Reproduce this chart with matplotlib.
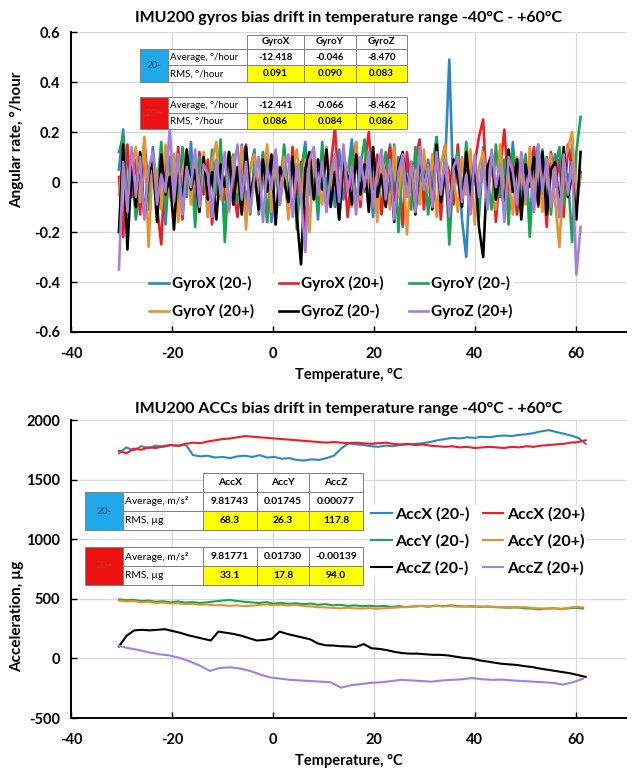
import numpy as np
import matplotlib
matplotlib.use('Agg')
import matplotlib.pyplot as plt
from matplotlib.patches import Rectangle

plt.rcParams['font.family'] = ['Lato', 'DejaVu Sans']
plt.rcParams['axes.unicode_minus'] = False

W, H = 639, 771

# ---- gyro data, hundredths of deg/hour ----
gyro_names = ['GyroX (20-)', 'GyroX (20+)', 'GyroY (20-)', 'GyroY (20+)', 'GyroZ (20-)', 'GyroZ (20+)']
line_colors = ['#2e86c9', '#ee1c24', '#16a651', '#e8922e', '#000000', '#a77fdb']

gyrox_m = [5, 21, -8, 12, -15, 3, 9, -11, 14, -4, 7, -17, 10, 2, -9, 13, -6, 16, -12, 4,
           8, -14, 11, -3, 6, -19, 12, 1, -7, 15, -10, 5, 13, -13, 3, 9, -16, 7, -2, 14,
           -8, 10, -12, 4, 16, -5, 8, -15, 11, -1, 6, -10, 13, -7, 3, 17, -11, 5, -4, 12,
           -14, 8, 2, -9, 15, -6, 10, -18, 7, 1, -12, 14, -3, 9, -8, 18, -10, 6, 49, -7,
           11, -15, -30, 8, 3, -11, 14, -5, 9, -13, 12, 2, -8, 16, -12, 5, 10, -16, 7, -3,
           13, -9, 4, 11, -14, 8, -6, 15, -10, 3]
gyrox_p = [2, -22, 15, -6, 9, -13, 17, -4, 6, -10, -25, 11, 3, -8, 14, -15, 7, 1, -11, 12,
           -5, 9, -17, 4, 13, -7, 10, -3, -14, 8, 15, -9, 5, -2, 11, -16, 6, 12, -8, 3,
           -12, 14, -5, 8, -19, 10, 2, -7, 13, -11, 6, 22, -6, 9, -14, 4, 16, -10, 7, 20,
           -3, 11, -13, 5, 14, -8, 2, -17, 12, -4, 8, 17, -11, 6, -2, 13, -15, 9, 4, -9,
           15, -6, 10, -12, 7, 18, 25, -8, 12, -16, 5, 21, -3, 9, -13, 11, -7, 4, 14, -10,
           6, -18, 12, -2, 9, -14, 15, 5, -8, 4]
gyroy_m = [12, 18, -6, 9, -14, 4, 15, -9, 7, -2, 16, -12, 5, 11, -7, 14, -3, 8, -18, 10,
           3, -10, 13, -5, 17, -24, 6, 11, -8, 2, 14, -13, 9, -4, 12, -16, 7, 3, -9, 15,
           -6, 10, -19, 5, 13, -3, 8, -12, 16, -7, 4, 11, -15, 9, -1, 13, -10, 6, 17, -5,
           10, -14, 3, 12, -8, 15, -20, 7, 1, -11, 14, -4, 9, -13, 6, 18, -7, 11, -25, 5,
           12, -9, 16, -3, 8, -14, 10, 2, -11, 15, -6, 9, -17, 13, 4, -8, 11, -22, 7, 15,
           -5, 10, -13, 6, 14, -9, 3, -24, 12, 26]
gyroy_p = [-5, 10, -13, 6, 14, -8, 18, -26, 9, 3, -11, 15, -6, 11, -16, 4, 13, -9, 7, -3,
           12, -14, 8, 16, -7, 2, -12, 10, -4, 14, -19, 6, 11, -8, 3, 15, -12, 7, -2, 10,
           -15, 5, 13, -6, 9, -20, 12, 1, -9, 14, -5, 8, -13, 11, 4, -10, 16, -7, 6, -2,
           12, -16, 9, 3, -11, 14, -6, 10, -21, 8, 2, -9, 13, -4, 11, -14, 7, 15, -8, 3,
           -12, 10, -5, 13, -17, 6, 12, -3, 9, -11, 15, -7, 4, -13, 10, 2, -9, 14, -6, 8,
           -12, 5, 11, -8, -26, 7, 13, 20, -10, 3]
gyroz_m = [-20, 15, -27, 6, -10, 12, -14, 3, 8, -16, 11, -5, 2, -19, 9, -8, 13, -3, 5, -12,
           10, -7, 4, -15, 7, -2, 12, -9, 6, -13, 14, -6, 3, -11, 9, -4, 11, -17, 6, 1,
           -8, 10, -14, -33, 5, 12, -7, 9, -3, 13, -10, 4, -15, 8, 2, -9, 11, -5, 7, -12,
           14, -6, 3, -10, 9, -16, 6, 12, -4, 8, -13, 10, -2, 7, -11, 15, -8, 4, -14, 9,
           2, -10, 12, -5, 8, -18, -30, 6, 11, -7, 3, -12, 13, -4, 9, -15, 7, -2, 10, -9,
           12, -13, 5, 8, -11, 14, -6, 3, -15, 12]
gyroz_p = [-35, 8, -12, 14, -6, 10, -15, 5, 12, -9, 3, -4, 22, -8, 11, -13, 6, -2, 13, -10,
           7, 3, -14, 9, -5, 12, -11, 4, 15, -7, 8, -12, 2, 10, -16, 6, -3, 13, -9, 5,
           11, -14, 7, -6, -28, 9, 14, -5, 8, -12, 3, 11, -8, 15, -4, 6, -13, 10, -2, 12,
           -10, 5, 13, -7, 9, -15, 4, 11, -6, 8, -12, 14, -3, 7, -10, 12, -5, 9, -14, 6,
           10, -8, 3, -13, 11, -6, 8, -11, 13, -2, 7, -16, 10, 4, -9, 12, -7, 5, -12, 15,
           -4, 9, -10, 6, -14, 11, -5, 8, -37, -18]
gyro_series = [gyrox_m, gyrox_p, gyroy_m, gyroy_p, gyroz_m, gyroz_p]
gyro_t_start, gyro_t_end = -30.5, 61.0

# ---- accelerometer data (micro g) ----
acc_names = ['AccX (20-)', 'AccX (20+)', 'AccY (20-)', 'AccY (20+)', 'AccZ (20-)', 'AccZ (20+)']
accx_m = [1720, 1770, 1745, 1780, 1765, 1785, 1775, 1790, 1780, 1795, 1705, 1695, 1700, 1685, 1690, 1680,
          1695, 1700, 1690, 1705, 1685, 1690, 1675, 1680, 1665, 1660, 1670, 1665, 1680, 1700, 1760, 1805,
          1795, 1790, 1780, 1775, 1785, 1780, 1790, 1795, 1800, 1805, 1815, 1830, 1840, 1850, 1845, 1855,
          1850, 1860, 1855, 1865, 1870, 1865, 1875, 1880, 1890, 1905, 1915, 1900, 1885, 1870, 1850, 1800]
accx_p = [1740, 1720, 1760, 1750, 1770, 1765, 1780, 1790, 1785, 1800, 1810, 1805, 1820, 1830, 1840, 1845,
          1855, 1865, 1860, 1855, 1850, 1845, 1840, 1835, 1830, 1825, 1820, 1815, 1810, 1815, 1810, 1805,
          1810, 1805, 1800, 1805, 1810, 1800, 1795, 1800, 1790, 1795, 1785, 1780, 1775, 1780, 1770, 1775,
          1765, 1770, 1775, 1770, 1765, 1775, 1770, 1780, 1775, 1785, 1790, 1795, 1800, 1810, 1815, 1830]
accy_m = [495, 488, 492, 480, 485, 475, 480, 470, 478, 468, 472, 465, 470, 478, 485, 490,
          482, 475, 470, 465, 472, 460, 466, 458, 462, 455, 460, 450, 455, 445, 450, 440,
          445, 438, 442, 436, 440, 432, 438, 430, 436, 440, 434, 442, 438, 445, 440, 435,
          438, 432, 436, 430, 428, 425, 430, 420, 418, 412, 418, 422, 415, 420, 425, 418]
accy_p = [485, 478, 482, 470, 474, 465, 468, 460, 462, 455, 458, 450, 452, 445, 448, 440,
          445, 438, 442, 448, 452, 446, 450, 444, 448, 440, 436, 430, 428, 424, 420, 425,
          420, 418, 422, 416, 420, 424, 428, 432, 436, 440, 438, 442, 436, 440, 434, 438,
          432, 436, 430, 434, 428, 432, 426, 430, 424, 420, 416, 420, 414, 425, 432, 428]
accz_m = [100, 190, 235, 240, 235, 240, 245, 230, 215, 195, 180, 165, 150, 225, 215, 205,
          190, 170, 150, 155, 165, 225, 205, 190, 175, 160, 125, 110, 108, 102, 100, 96,
          120, 85, 80, 70, 55, 45, 40, 40, 35, 30, 30, 25, 15, 5, 0, -15,
          -25, -35, -45, -50, -55, -65, -72, -85, -95, -105, -115, -125, -140, -155]
accz_p = [105, 85, 70, 50, 35, 25, 5, -25, -60, -105, -80, -75, -85, -105, -135, -160,
          -170, -180, -185, -190, -195, -200, -245, -225, -215, -205, -200, -190, -180, -185, -190, -195,
          -185, -180, -175, -165, -175, -180, -178, -185, -190, -195, -200, -205, -220, -200, -170]
acc_series = [accx_m, accx_p, accy_m, accy_p, accz_m, accz_p]
acc_t_start = -30.5
acc_t_end = [62.0, 62.0, 61.5, 61.5, 62.0, 61.5]

# ---- tables ----
gyro_cols = ['GyroX', 'GyroY', 'GyroZ']
gyro_avg_m = ['-12.418', '-0.046', '-8.470']
gyro_rms_m = ['0.091', '0.090', '0.083']
gyro_avg_p = ['-12.441', '-0.066', '-8.462']
gyro_rms_p = ['0.086', '0.084', '0.086']
acc_cols = ['AccX', 'AccY', 'AccZ']
acc_avg_m = ['9.81743', '0.01745', '0.00077']
acc_rms_m = ['68.3', '26.3', '117.8']
acc_avg_p = ['9.81771', '0.01730', '-0.00139']
acc_rms_p = ['33.1', '17.8', '94.0']

fig = plt.figure(figsize=(W / 100, H / 100), dpi=100)


def px_axes(x0, y0, x1, y1):
    return fig.add_axes([x0 / W, 1 - y1 / H, (x1 - x0) / W, (y1 - y0) / H])


def style_axes(ax):
    for s in ['top', 'right']:
        ax.spines[s].set_visible(False)
    for s in ['left', 'bottom']:
        ax.spines[s].set_linewidth(1.4)
    ax.grid(True, color='#d9d9d9', lw=0.9)
    ax.set_axisbelow(True)
    ax.tick_params(direction='in', length=4, width=1.0, labelsize=10.5, pad=8)
    ax.tick_params(axis='x', pad=10.5)
    for lab in ax.get_xticklabels() + ax.get_yticklabels():
        lab.set_fontweight('bold')


def cell(x0, y0, x1, y1, text='', fc='white', color='black', weight='normal', size=6.0, ha='center'):
    fig.add_artist(Rectangle((x0 / W, 1 - y1 / H), (x1 - x0) / W, (y1 - y0) / H,
                             transform=fig.transFigure, fc=fc, ec='#808080', lw=0.7, zorder=10))
    tx = (x0 + 2) / W if ha == 'left' else (x0 + x1) / 2 / W
    fig.text(tx, 1 - (y0 + y1) / 2 / H, text, ha=ha, va='center', color=color,
             fontsize=size, fontweight=weight, zorder=11)


def stat_table(xc, xl, cols_x, y0, rh, tag, tag_fc, tag_c, labels, avg, rms, size):
    cell(xc, y0, xl, y0 + 2 * rh, tag, fc=tag_fc, color=tag_c, size=size)
    cell(xl, y0, cols_x[0], y0 + rh, labels[0], size=size, ha='left')
    cell(xl, y0 + rh, cols_x[0], y0 + 2 * rh, labels[1], size=size, ha='left')
    for i in range(3):
        cell(cols_x[i], y0, cols_x[i + 1], y0 + rh, avg[i], weight='bold', size=size)
        cell(cols_x[i], y0 + rh, cols_x[i + 1], y0 + 2 * rh, rms[i], fc='#ffff00', weight='bold', size=size)


# ================= gyros =================
ax1 = px_axes(71, 32, 626, 332)
for vals, name, c in zip(gyro_series, gyro_names, line_colors):
    t = np.linspace(gyro_t_start, gyro_t_end, len(vals))
    ax1.plot(t, np.array(vals) / 100, color=c, lw=1.9, label=name)
ax1.set_xlim(-40, 70)
ax1.set_ylim(-0.6, 0.6)
ax1.set_xticks([-40, -20, 0, 20, 40, 60])
ax1.set_yticks([-0.6, -0.4, -0.2, 0, 0.2, 0.4, 0.6])
ax1.set_yticklabels(['-0.6', '-0.4', '-0.2', '0', '0.2', '0.4', '0.6'])
style_axes(ax1)
ax1.set_title('IMU200 gyros bias drift in temperature range -40°C - +60°C',
              fontsize=11.5, fontweight='bold', pad=7)
ax1.set_xlabel('Temperature, °C', fontsize=10.5, fontweight='bold', labelpad=5)
ax1.set_ylabel('Angular rate, °/hour', fontsize=11, fontweight='bold')
ax1.yaxis.set_label_coords(-0.085, 0.64)
h, l = ax1.get_legend_handles_labels()
order = [0, 3, 1, 4, 2, 5]
ax1.legend([h[i] for i in order], [l[i] for i in order], ncol=3, loc='center',
           bbox_to_anchor=(331 / W, 1 - 297.5 / H), bbox_transform=fig.transFigure,
           frameon=True, framealpha=1, edgecolor='none', fancybox=False,
           prop={'size': 11, 'weight': 'bold'}, handlelength=1.3, handletextpad=0.2,
           columnspacing=1.6, labelspacing=0.85, borderpad=0.1)

gx = [247, 304, 356, 407]
for i in range(3):
    cell(gx[i], 35, gx[i + 1], 49, gyro_cols[i], weight='bold', size=7)
stat_table(140, 168, gx, 49, 16.5, '20-', '#1fa9e9', '#1f4e79',
           ['Average, °/hour', 'RMS, °/hour'], gyro_avg_m, gyro_rms_m, 7)
stat_table(140, 168, gx, 97, 16, '20+', '#ee1111', '#c0392b',
           ['Average, °/hour', 'RMS, °/hour'], gyro_avg_p, gyro_rms_p, 7)

# ================= accelerometers =================
ax2 = px_axes(71, 420, 626, 718)
for vals, name, c, te in zip(acc_series, acc_names, line_colors, acc_t_end):
    t = np.linspace(acc_t_start, te, len(vals))
    ax2.plot(t, vals, color=c, lw=1.5, label=name)
ax2.set_xlim(-40, 70)
ax2.set_ylim(-500, 2000)
ax2.set_xticks([-40, -20, 0, 20, 40, 60])
ax2.set_yticks([-500, 0, 500, 1000, 1500, 2000])
style_axes(ax2)
ax2.set_title('IMU200 ACCs bias drift in temperature range -40°C - +60°C',
              fontsize=11.5, fontweight='bold', pad=5)
ax2.set_xlabel('Temperature, °C', fontsize=10.5, fontweight='bold', labelpad=5)
ax2.set_ylabel('Acceleration, µg', fontsize=11, fontweight='bold')
ax2.yaxis.set_label_coords(-0.085, 0.34)
h, l = ax2.get_legend_handles_labels()
order = [0, 2, 4, 1, 3, 5]
ax2.legend([h[i] for i in order], [l[i] for i in order], ncol=2, loc='center',
           bbox_to_anchor=(478 / W, 1 - 541 / H), bbox_transform=fig.transFigure,
           frameon=True, framealpha=1, edgecolor='none', fancybox=False,
           prop={'size': 11.5, 'weight': 'bold'}, handlelength=1.3, handletextpad=0.2,
           columnspacing=0.8, labelspacing=0.78, borderpad=0.1)

axc = [203, 257, 309, 363]
for i in range(3):
    cell(axc[i], 473, axc[i + 1], 492, acc_cols[i], weight='bold', size=7.4)
stat_table(85, 123, axc, 492, 19, '20-', '#1fa9e9', '#1f4e79',
           ['Average, m/s²', 'RMS, µg'], acc_avg_m, acc_rms_m, 7.4)
stat_table(85, 123, axc, 547, 19, '20+', '#ee1111', '#c0392b',
           ['Average, m/s²', 'RMS, µg'], acc_avg_p, acc_rms_p, 7.4)

fig.savefig('out.png', dpi=100)
